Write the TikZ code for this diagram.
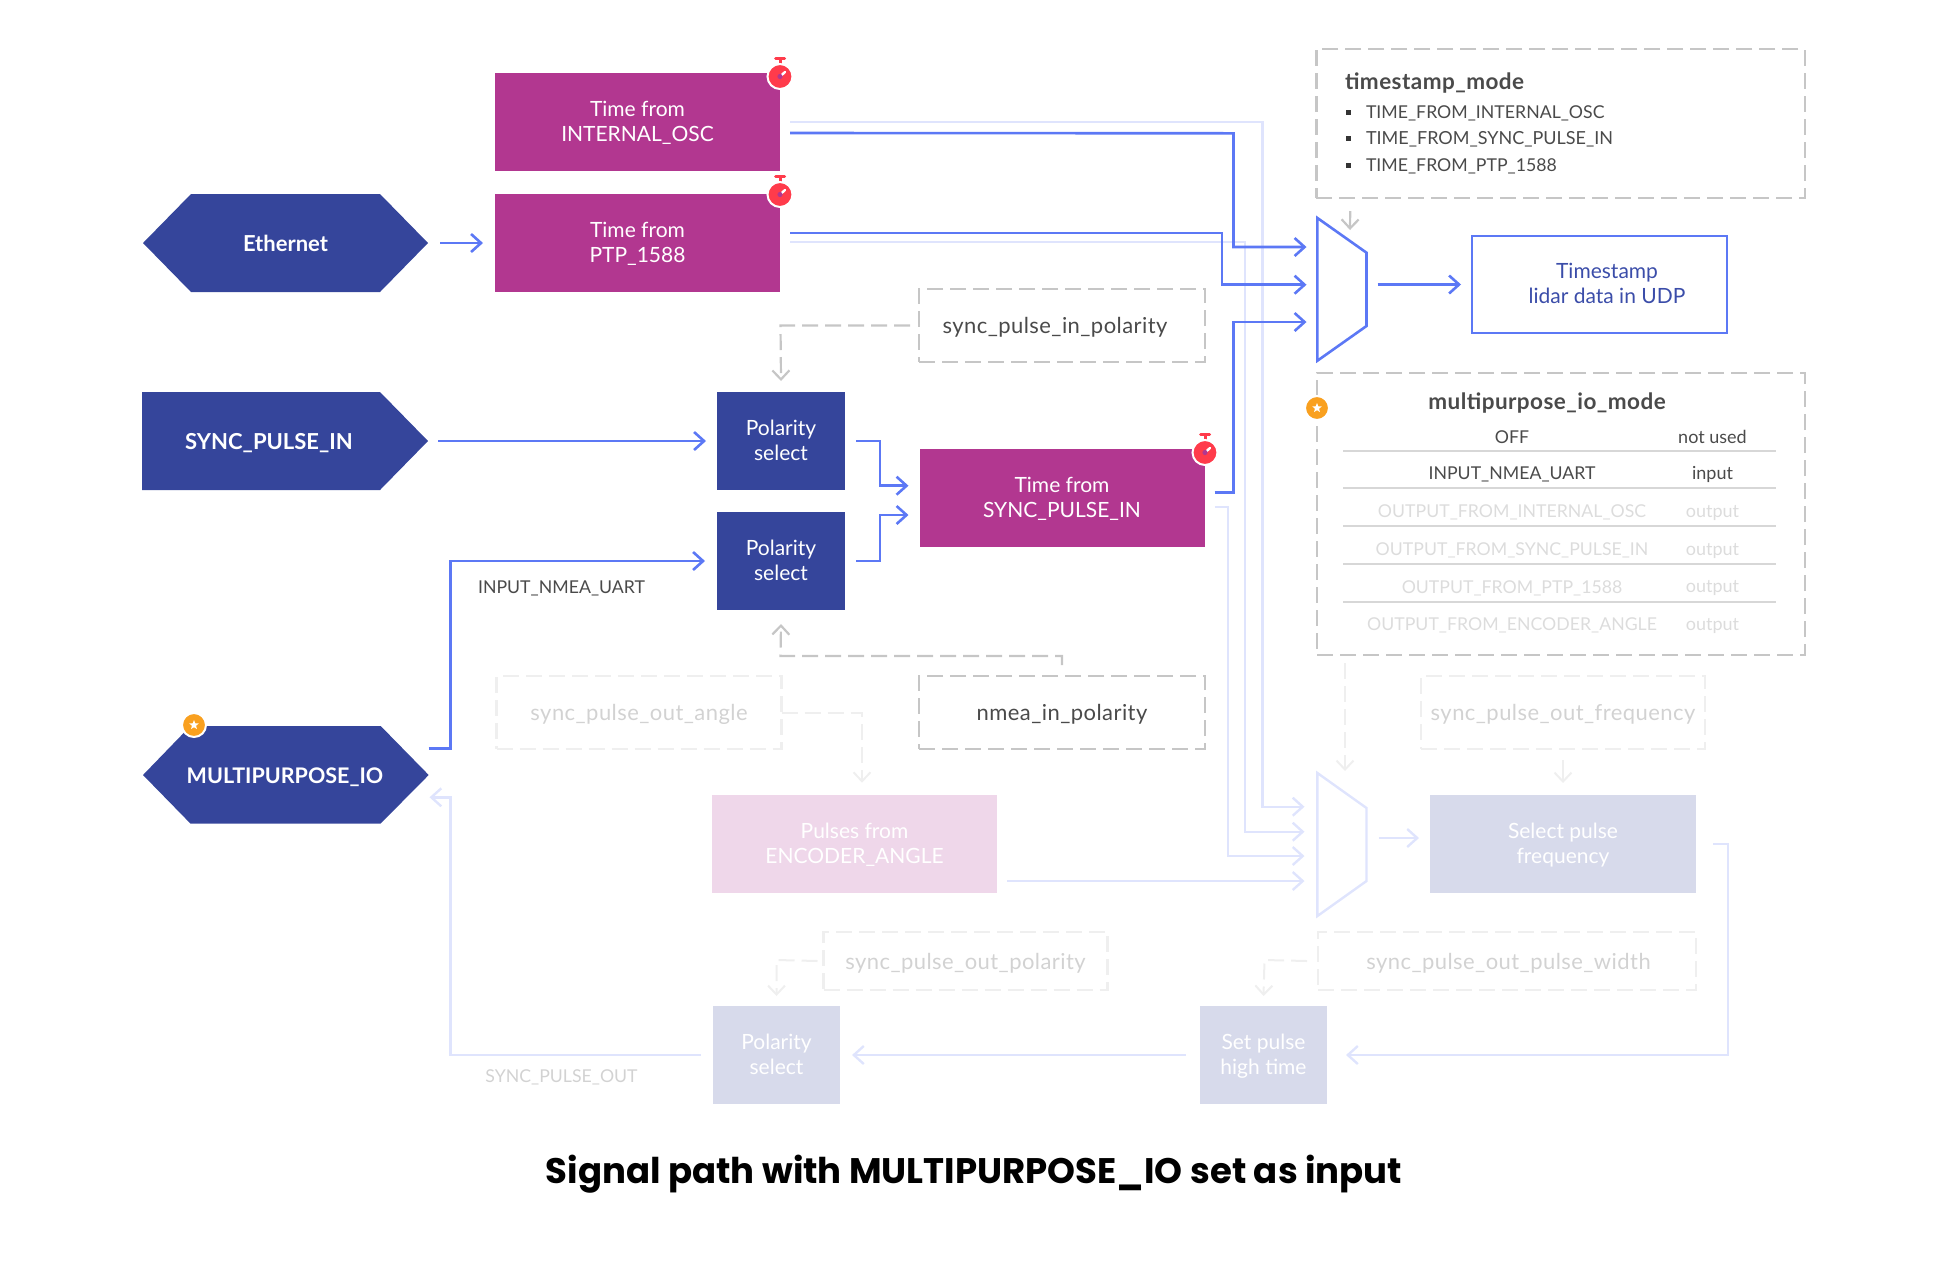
\documentclass[tikz,border=0pt]{standalone}
\usepackage{fontspec}
\setmainfont{Lato}
\newfontfamily\capfont{Poppins}
\usetikzlibrary{arrows.meta,shapes.geometric}
\definecolor{navy}{HTML}{35459B}
\definecolor{plum}{HTML}{B23790}
\definecolor{pinkfade}{HTML}{EFD7EA}
\definecolor{lilac}{HTML}{D7DAEB}
\definecolor{wire}{HTML}{5C78F5}
\definecolor{wirefade}{HTML}{DFE4FD}
\definecolor{dashgray}{HTML}{C6C6C6}
\definecolor{dashfade}{HTML}{EFEFEF}
\definecolor{ink}{HTML}{4A4A4A}
\definecolor{inkfade}{HTML}{D2D2D2}
\definecolor{inkfader}{HTML}{DCDCDC}
\definecolor{watchred}{HTML}{FF3B4B}
\definecolor{starorange}{HTML}{F9A01F}
\newcommand\bodyfont{\fontsize{21}{25}\selectfont}
\newcommand\ctrlfont{\fontsize{22}{25}\selectfont\addfontfeature{LetterSpace=2}}
\newcommand\titlefont{\fontsize{22.5}{26}\selectfont\bfseries\addfontfeature{LetterSpace=2}}
\newcommand\smallfont{\fontsize{17.7}{21}\selectfont}
\newcommand\sidefont{\fontsize{18}{21}\selectfont}
\newcommand\one[1]{\raisebox{-2pt}[\height][\depth]{#1}}
\newcommand\two[2]{\raisebox{-1.9pt}[\height][\depth]{\begin{tabular}{@{}c@{}}#1\\#2\end{tabular}}}
\newcommand\watchicon[2]{%
  \draw[watchred,line width=3pt] (#1,#2-12) -- (#1,#2-17);
  \draw[watchred,line width=3pt,line cap=round] (#1-4.5,#2-17.5) -- (#1+4.5,#2-17.5);
  \fill[watchred,draw=white,line width=2pt] (#1,#2+0.5) circle (12.5);
  \draw[white,line width=2.4pt,line cap=round] (#1,#2+0.5) -- (#1+5,#2-4);
  \fill[plum] (#1,#2+0.5) circle (2.6);
}
\tikzset{
  x=1pt,y=-1pt,
  every node/.style={inner sep=0pt,outer sep=0pt,align=center},
  block/.style={minimum width=#1,text=white,font=\bodyfont},
  navybox/.style={block=128,minimum height=98,fill=navy},
  plumbox/.style={block=285,minimum height=98,fill=plum},
  liliacbox/.style={block=127,minimum height=98,fill=lilac,text=white},
  labelbig/.style={font=\fontsize{22}{25}\selectfont\bfseries,text=white},
  ctrlbox/.style={draw=dashgray,line width=2.5pt,dash pattern=on 16pt off 7pt,text=ink,font=\ctrlfont,minimum height=73},
  ghostbox/.style={draw=dashfade,line width=2.2pt,dash pattern=on 16pt off 7pt,text=inkfade,font=\ctrlfont},
  arrowtip/.style={-{Straight Barb[length=10pt,width=18pt]}},
  flow/.style={arrowtip,wire,line width=2.6pt},
  ghostflow/.style={arrowtip,wirefade,line width=2.4pt},
  ctrl/.style={-{Straight Barb[length=9pt,width=17pt]},dashgray,line width=2.2pt,dash pattern=on 16pt off 7pt},
  ctrlsolid/.style={-{Straight Barb[length=9pt,width=17pt]},dashgray,line width=2.2pt},
  ghostctrl/.style={-{Straight Barb[length=9pt,width=17pt]},dashfade,line width=2pt,dash pattern=on 16pt off 7pt},
  ghostsolid/.style={-{Straight Barb[length=9pt,width=17pt]},dashfade,line width=2pt},
  rowl/.style={font=\smallfont,text=ink},
  rowf/.style={font=\smallfont,text=inkfader},
  sidel/.style={font=\sidefont,text=ink},
  sidef/.style={font=\sidefont,text=inkfader},
  tablerule/.style={draw=dashfade!90!black,line width=2pt},
}
\begin{document}
\begin{tikzpicture}
\useasboundingbox (0,0) rectangle (1948,1262);
% --- nodes behind the faded connectors
\node[plumbox] (int) at (637.5,122) {\two{Time from}{INTERNAL\_OSC}};
\node[plumbox] (ptp) at (637.5,243) {\two{Time from}{PTP\_1588}};
\node[plumbox] (sync) at (1062,498) {\two{Time from}{SYNC\_PULSE\_IN}};
\node[minimum width=49,minimum height=143] (mux1) at (1342,289.5) {};
\node[minimum width=49,minimum height=143] (mux2) at (1342,844.5) {};
\node[block=285,minimum height=98,fill=pinkfade,text=white] (enc) at (854.5,844) {\two{Pulses from}{ENCODER\_ANGLE}};
\node[block=266,minimum height=98,fill=lilac] (sel) at (1563,844) {\two{Select pulse}{frequency}};
\node[liliacbox] (pol3) at (776.5,1055) {\two{Polarity}{select}};
\node[liliacbox] (setp) at (1263.5,1055) {\two{Set pulse}{high time}};
\draw[ghostflow] ([shift={(10,-0.3)}]int.east) -- (1262.5,121.7) -- (1262.5,806.7) -- ([shift={(-13,-37.8)}]mux2.west);
\draw[ghostflow] ([shift={(10,-1)}]ptp.east) -- (1245,242) -- (1245,831.7) -- ([shift={(-13,-12.8)}]mux2.west);
\draw[ghostflow] ([shift={(10,9)}]sync.east) -- (1227.7,507) -- (1227.7,856) -- ([shift={(-13,11.5)}]mux2.west);
\draw[ghostflow] ([shift={(10,37)}]enc.east) -- ([shift={(-13,36.5)}]mux2.west);
\draw[ghostflow] ([shift={(12,-6.5)}]mux2.east) -- ([shift={(-11,-6)}]sel.west);
\draw[ghostflow] ([xshift=17pt]sel.east) -- (1728,844) -- (1728,1055) -- ([xshift=19pt]setp.east);
\draw[ghostflow] ([xshift=-14pt]setp.west) -- ([xshift=12pt]pol3.east);
% --- mux outlines
\draw[wire,line width=2.6pt,line join=miter] (1317.4,218) -- (1366.5,252.7) -- (1366.5,326) -- (1317.4,360.7) -- cycle;
\draw[wirefade,line width=2.4pt,line join=miter] (1317.4,773) -- (1366.5,808) -- (1366.5,881) -- (1317.4,916) -- cycle;
% --- hexagons
\fill[navy] (143,243) -- (191,194) -- (380,194) -- (428,243) -- (380,292) -- (191,292) -- cycle;
\node[minimum width=285,minimum height=98,labelbig] (eth) at (285.5,243) {Ethernet};
\fill[navy] (142,392) -- (380,392) -- (428,441) -- (380,490) -- (142,490) -- cycle;
\node[minimum width=318,minimum height=98,labelbig] (spi) at (269,441) {\one{SYNC\_PULSE\_IN}};
\fill[navy] (143,775) -- (190.4,726) -- (380.7,726) -- (428.7,775) -- (380.7,823.5) -- (190.4,823.5) -- cycle;
\node[minimum width=287,minimum height=98,labelbig,font=\fontsize{21.5}{25}\selectfont\bfseries] (mio) at (285,775) {\one{MULTIPURPOSE\_IO}};
% --- solid boxes
\node[navybox] (pol1) at (781,441) {\two{Polarity}{select}};
\node[navybox] (pol2) at (781,561) {\two{Polarity}{select}};
\node[draw=wire,line width=2.8pt,minimum width=255,minimum height=97,font=\bodyfont,text=navy!85!wire] (udp) at (1599.5,284.5) {\kern15pt\two{Timestamp}{lidar data in UDP}};
% --- control boxes
\node[ctrlbox,minimum width=286] (spp) at (1062,325.5) {\kern-14pt\one{sync\_pulse\_in\_polarity}};
\node[ctrlbox,minimum width=286] (nmea) at (1062,712.5) {\one{nmea\_in\_polarity}};
\node[ghostbox,minimum width=285,minimum height=73] (spa) at (639,712.5) {\one{sync\_pulse\_out\_angle}};
\node[ghostbox,minimum width=284.5,minimum height=73] (spf) at (1563,712.5) {\one{sync\_pulse\_out\_frequency}};
\node[ghostbox,minimum width=284,minimum height=58] (spol) at (965.5,961) {\one{sync\_pulse\_out\_polarity}};
\node[ghostbox,minimum width=378,minimum height=58] (spw) at (1507,961) {\kern3pt\one{sync\_pulse\_out\_pulse\_width}};
% --- timestamp_mode panel
\node[draw=dashgray,line width=2.5pt,dash pattern=on 16pt off 7pt,minimum width=488.5,minimum height=149] (tsm) at (1560.7,123.5) {};
\node[anchor=west,font=\titlefont,text=ink] (tst) at (1345,83) {timestamp\_mode};
\node[anchor=west,rowl] (ts1) at (1366,113.2) {TIME\_FROM\_INTERNAL\_OSC};
\node[anchor=west,font=\fontsize{18}{21}\selectfont,text=ink] (ts2) at (1366,139.2) {TIME\_FROM\_SYNC\_PULSE\_IN};
\node[anchor=west,rowl] (ts3) at (1366,166.2) {TIME\_FROM\_PTP\_1588};
\fill[ink!70!black] (1345.5,109.5) rectangle (1350.5,114.5);
\fill[ink!70!black] (1345.5,135.5) rectangle (1350.5,140.5);
\fill[ink!70!black] (1345.5,162.5) rectangle (1350.5,167.5);
% --- multipurpose_io_mode panel
\node[draw=dashgray,line width=2.5pt,dash pattern=on 16pt off 7pt,minimum width=488,minimum height=282] (mpm) at (1561.2,514) {};
\node[font=\titlefont,text=ink] (mpt) at (1547,402.7) {multipurpose\_io\_mode};
\node[rowl] (r1l) at (1512,436.7) {OFF};
\node[sidel] (r1r) at (1712.5,436.7) {not used};
\node[rowl] (r2l) at (1512,474.3) {INPUT\_NMEA\_UART};
\node[sidel] (r2r) at (1712.5,474.3) {input};
\node[rowf] (r3l) at (1512,512.5) {OUTPUT\_FROM\_INTERNAL\_OSC};
\node[sidef] (r3r) at (1712.5,512.5) {output};
\node[rowf] (r4l) at (1512,550.5) {OUTPUT\_FROM\_SYNC\_PULSE\_IN};
\node[sidef] (r4r) at (1712.5,550.5) {output};
\node[rowf] (r5l) at (1512,588.2) {OUTPUT\_FROM\_PTP\_1588};
\node[sidef] (r5r) at (1712.5,588.2) {output};
\node[rowf] (r6l) at (1512,625.8) {OUTPUT\_FROM\_ENCODER\_ANGLE};
\node[sidef] (r6r) at (1712.5,625.8) {output};
\draw[tablerule] (1343,451.3) -- (1776,451.3);
\draw[tablerule] (1343,488.3) -- (1776,488.3);
\draw[tablerule] (1343,526.3) -- (1776,526.3);
\draw[tablerule] (1343,564) -- (1776,564);
\draw[tablerule] (1343,602) -- (1776,602);
% --- wire labels
\node[rowl] (lab1) at (561.5,588.5) {INPUT\_NMEA\_UART};
\node[font=\smallfont,text=inkfade] (lab2) at (561.5,1077.5) {SYNC\_PULSE\_OUT};
% --- live connectors
\draw[flow] ([xshift=12pt]eth.east) -- ([xshift=-12pt]ptp.west);
\draw[flow] ([shift={(10,11)}]int.east) -- (1233.5,133.3) -- (1233.5,247) -- ([shift={(-11,-42.5)}]mux1.west);
\draw[flow] ([shift={(10,-10)}]ptp.east) -- (1222,233) -- (1222,284.7) -- ([shift={(-11,-4.8)}]mux1.west);
\draw[flow] ([shift={(10,-5.3)}]sync.east) -- (1233.5,492.7) -- (1233.5,322) -- ([shift={(-11,32.5)}]mux1.west);
\draw[flow] ([xshift=10pt]spi.east) -- ([xshift=-11pt]pol1.west);
\draw[flow] ([xshift=11pt]pol1.east) -- (880,441) -- (880,485.7) -- ([shift={(-11,-12.3)}]sync.west);
\draw[flow] ([xshift=11pt]pol2.east) -- (880,561) -- (880,515) -- ([shift={(-11,17)}]sync.west);
\draw[flow] ([shift={(0,-26.3)}]mio.east) -- (450.6,748.7) -- (450.6,561) -- ([xshift=-12pt]pol2.west);
\draw[flow] ([shift={(11,-5)}]mux1.east) -- ([xshift=-11pt]udp.west);
% --- faded output connector to MULTIPURPOSE_IO
\draw[ghostflow] ([xshift=-12pt]pol3.west) -- (450.6,1055) -- (450.6,797.3) -- ([shift={(1,22.3)}]mio.east);
% --- control connectors
\draw[ctrl] ([xshift=-9pt]spp.west) -- (780.5,325.5) -- ([yshift=11pt]pol1.north);
\draw[ctrl] ([yshift=11pt]nmea.north) -- (1062,656) -- (780.5,656) -- ([yshift=-14pt]pol2.south);
\draw[ctrlsolid] ([shift={(-210.5,13)}]tsm.south) -- (1350,230);
\draw[ghostctrl] (spa.east) -- (862,712.5) -- (862,782.7);
\draw[ghostctrl] ([shift={(-216.2,8)}]mpm.south) -- ([shift={(3,-2)}]mux2.north);
\draw[ghostsolid] ([yshift=-11pt]spf.south) -- ([yshift=12pt]sel.north);
\draw[ghostctrl] ([xshift=-6pt]spol.west) -- (776.5,960) -- ([yshift=10pt]pol3.north);
\draw[ghostctrl] ([xshift=-11pt]spw.west) -- (1264.5,960) -- ([yshift=10pt]setp.north);
% --- badges
\watchicon{780}{76}
\watchicon{780}{194}
\watchicon{1205}{452}
\fill[starorange,draw=white,line width=2pt] (1317,408) circle (12);
\node[star,star points=5,star point ratio=2.3,fill=white,minimum size=10pt] (st1) at (1317,408) {};
\fill[starorange,draw=white,line width=2pt] (194,725) circle (12);
\node[star,star points=5,star point ratio=2.3,fill=white,minimum size=10pt] (st2) at (194,725) {};
% --- caption
\node[font=\capfont\bfseries\fontsize{35.5}{42}\selectfont,text=black] (cap) at (974,1174.5) {Signal path with MULTIPURPOSE\_IO set as input};
\end{tikzpicture}
\end{document}
